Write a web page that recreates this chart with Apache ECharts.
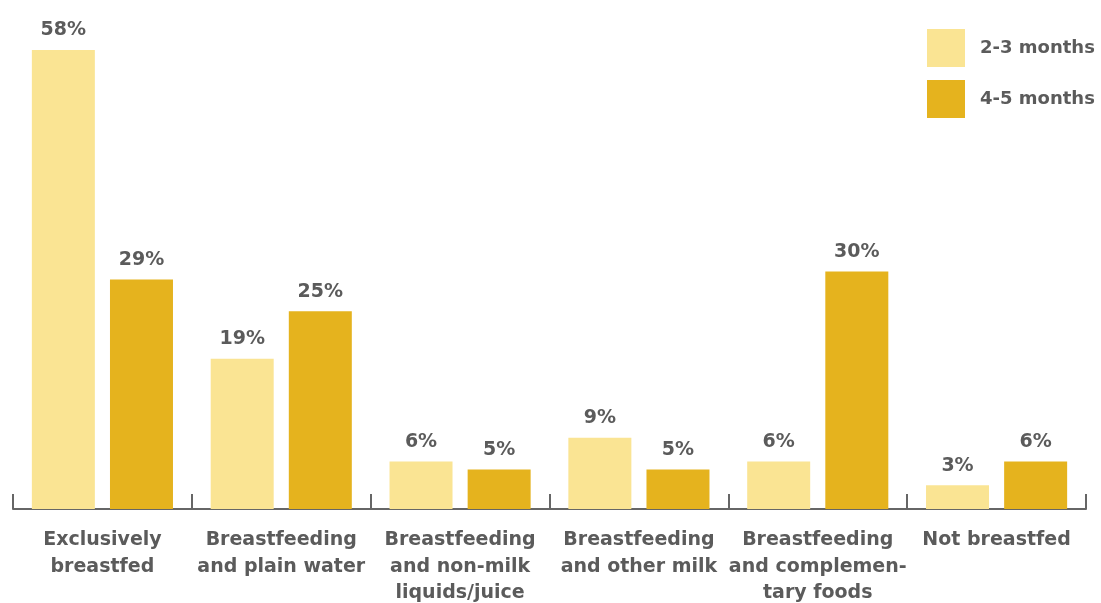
<!DOCTYPE html>
<html>
<head>
<meta charset="utf-8">
<script src="https://cdn.jsdelivr.net/npm/echarts@6/dist/echarts.min.js"></script>
<style>
  html, body { margin: 0; padding: 0; background: #ffffff; }
  #chart { width: 1101px; height: 603px; }
</style>
</head>
<body>
<div id="chart"></div>
<script>
// Feeding practices by infant age group (percent of infants)
const categories = [
  'Exclusively\nbreastfed',
  'Breastfeeding\nand plain water',
  'Breastfeeding\nand non-milk\nliquids/juice',
  'Breastfeeding\nand other milk',
  'Breastfeeding\nand complemen-\ntary foods',
  'Not breastfed'
];
const months23 = [58, 19, 6, 9, 6, 3];
const months45 = [29, 25, 5, 5, 30, 6];
const seriesNames = ['2-3 months', '4-5 months'];

const textColor = '#5b5b5b';
const fontFamily = '"DejaVu Sans", "Noto Sans", sans-serif';

const chart = echarts.init(document.getElementById('chart'));

const valueLabel = {
  show: true,
  position: 'top',
  distance: 10,
  formatter: '{c}%',
  color: textColor,
  fontFamily: fontFamily,
  fontSize: 19,
  fontWeight: 'bold'
};

chart.setOption({
  animation: false,
  textStyle: { fontFamily: fontFamily },
  legend: {
    orient: 'vertical',
    left: 922,
    top: 24,
    itemWidth: 38,
    itemHeight: 38,
    itemGap: 13,
    icon: 'rect',
    data: seriesNames,
    textStyle: {
      color: textColor,
      fontSize: 18,
      fontWeight: 'bold',
      fontFamily: fontFamily,
      padding: [0, 0, 0, 10]
    }
  },
  grid: {
    left: 13,
    right: 15,
    top: 50,
    bottom: 94,
    containLabel: false,
    outerBoundsMode: 'none'
  },
  xAxis: {
    type: 'category',
    data: categories,
    axisLine: { show: true, lineStyle: { color: '#666666', width: 2 } },
    axisTick: { show: true, inside: true, length: 15, lineStyle: { color: '#666666', width: 2 } },
    axisLabel: {
      color: textColor,
      fontSize: 19,
      fontWeight: 'bold',
      fontFamily: fontFamily,
      lineHeight: 26.5,
      margin: 18,
      interval: 0
    }
  },
  yAxis: {
    type: 'value',
    min: 0,
    max: 58,
    show: false
  },
  series: [
    {
      name: seriesNames[0],
      type: 'bar',
      data: months23,
      barWidth: 63,
      barGap: '24%',
      itemStyle: { color: '#fae493' },
      label: valueLabel
    },
    {
      name: seriesNames[1],
      type: 'bar',
      data: months45,
      barWidth: 63,
      itemStyle: { color: '#e5b31e' },
      label: valueLabel
    }
  ]
});
</script>
</body>
</html>
